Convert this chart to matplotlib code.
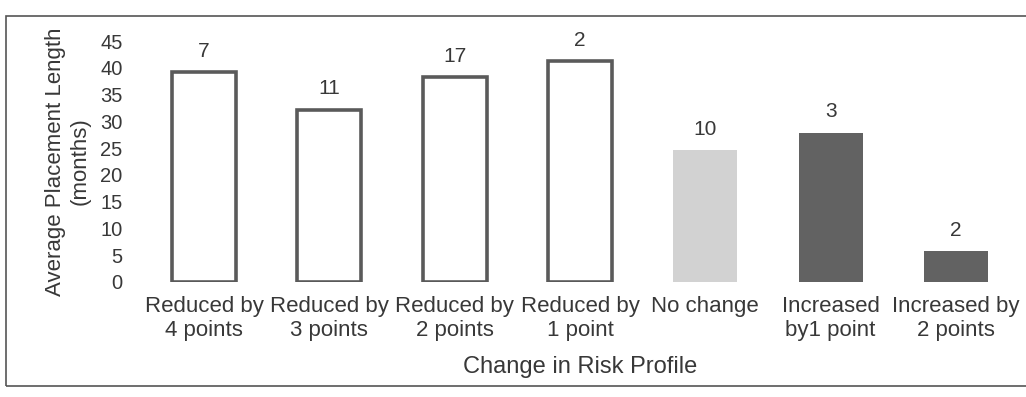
import matplotlib.pyplot as plt
from matplotlib.patches import Rectangle

categories = ["Reduced by\n4 points", "Reduced by\n3 points", "Reduced by\n2 points",
              "Reduced by\n1 point", "No change", "Increased\nby1 point", "Increased by\n2 points"]
avg_months = [39.2, 32.2, 38.3, 41.3, 24.6, 27.9, 5.7]
counts = [7, 11, 17, 2, 10, 3, 2]

plt.rcParams['font.family'] = ['Liberation Sans', 'DejaVu Sans']
text_col = '#383838'
edge_col = '#5a5a5a'

fig = plt.figure(figsize=(10.26, 3.97), dpi=100)
ax = fig.add_axes([0.1378, 0.2897, 0.855, 0.607])

x = range(len(categories))
face = ['white'] * 4 + ['#d2d2d2', '#626262', '#626262']
edges = [edge_col] * 4 + ['#d2d2d2', '#626262', '#626262']
lws = [2.6] * 4 + [0, 0, 0]
bars = ax.bar(x, avg_months, width=0.51, color=face, edgecolor=edges, linewidth=lws)
ax.bar_label(bars, labels=[str(c) for c in counts], padding=8,
             fontsize=15, color=text_col)

ax.set_xlim(-0.5, len(categories) - 0.5)
ax.set_ylim(0, 45)
ax.set_yticks(range(0, 46, 5))
ax.set_xticks(list(x))
ax.set_xticklabels(categories, fontsize=16, color=text_col, linespacing=1.2)
ax.tick_params(axis='y', length=0, pad=13.5, labelsize=14.5, labelcolor=text_col)
ax.tick_params(axis='x', length=0, pad=10)
for s in ax.spines.values():
    s.set_visible(False)

ax.set_ylabel("Average Placement Length\n(months)", fontsize=16,
              color=text_col, labelpad=7, linespacing=1.25)
ax.set_xlabel("Change in Risk Profile", fontsize=17, color=text_col, labelpad=11)

# outer border around the chart area
fig.patches.append(Rectangle((6 / 1026, 11 / 397), 1.05, 370 / 397,
                             transform=fig.transFigure, fill=False,
                             edgecolor='#555555', linewidth=1.2))

fig.savefig('out.png', dpi=100)
